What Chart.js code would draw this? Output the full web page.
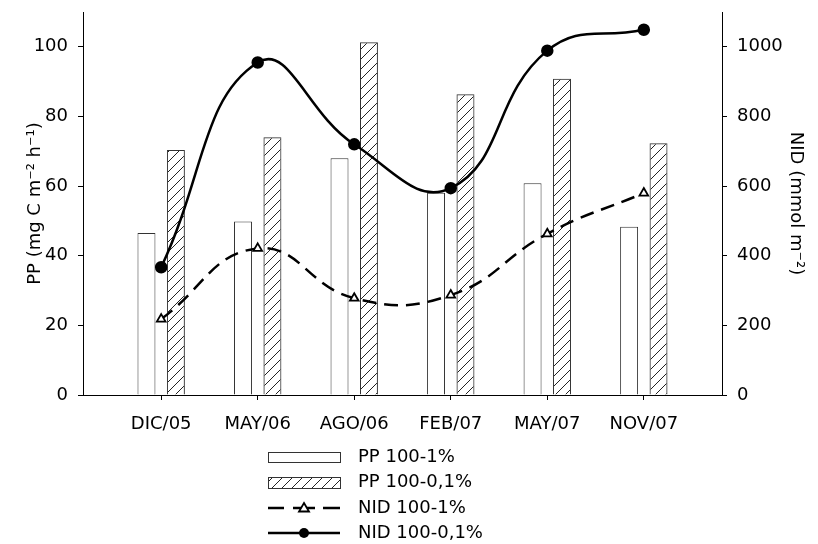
<!DOCTYPE html>
<html>
<head>
<meta charset="utf-8">
<script src="https://cdn.jsdelivr.net/npm/chart.js@4"></script>
<style>
  html, body { margin: 0; padding: 0; background: #fff; }
  #wrap { width: 818px; height: 544px; }
</style>
</head>
<body>
<div id="wrap"><canvas id="myChart" width="818" height="544"></canvas></div>
<script>
const categories = ['DIC/05', 'MAY/06', 'AGO/06', 'FEB/07', 'MAY/07', 'NOV/07'];
const pp1 = [46.5, 49.8, 68.0, 58.1, 60.8, 48.3];
const pp01 = [70.4, 74.0, 101.3, 86.4, 90.8, 72.3];
const nid1 = [218, 421, 278, 287, 463, 580];
const nid01 = [367, 955, 720, 594, 989, 1049];
const ppTicks = [0, 20, 40, 60, 80, 100];
const nidTicks = [0, 200, 400, 600, 800, 1000];
const legendLabels = ['PP 100-1%', 'PP 100-0,1%', 'NID 100-1%', 'NID 100-0,1%'];

const FONT = 'DejaVu Sans';

function hatch() {
  const c = document.createElement('canvas');
  c.width = 10; c.height = 10;
  const g = c.getContext('2d');
  g.strokeStyle = '#222';
  g.lineWidth = 1;
  g.beginPath();
  g.moveTo(0, 10); g.lineTo(10, 0);
  g.moveTo(-1, 1); g.lineTo(1, -1);
  g.moveTo(9, 11); g.lineTo(11, 9);
  g.stroke();
  return g.createPattern(c, 'repeat');
}
const hatchFill = hatch();

const xy = (arr) => arr.map((v, i) => ({ x: i, y: v }));

// y scales: fixed width and no extra label padding so the plot box starts at y=12
const fitY = (w) => (s) => { s.width = w; s.paddingTop = 0; s.paddingBottom = 0; };

// legend drawn by hand below the chart, one entry per row
const bottomLegend = {
  id: 'bottomLegend',
  afterDraw(chart) {
    const ctx = chart.ctx;
    const x0 = 268, x1 = 340, tx = 358;
    const rows = [457, 482.5, 508, 533];
    ctx.save();
    ctx.lineWidth = 1;
    ctx.strokeStyle = '#333';
    ctx.fillStyle = '#fff';
    ctx.fillRect(x0, 452, x1 - x0, 10);
    ctx.strokeRect(x0 + 0.5, 452.5, x1 - x0, 10);
    ctx.fillStyle = hatchFill;
    ctx.fillRect(x0, 477, x1 - x0, 11);
    ctx.strokeRect(x0 + 0.5, 477.5, x1 - x0, 11);

    ctx.strokeStyle = '#000';
    ctx.lineWidth = 2.5;
    ctx.beginPath();
    ctx.moveTo(x0, rows[2]); ctx.lineTo(284, rows[2]);
    ctx.moveTo(293, rows[2]); ctx.lineTo(315, rows[2]);
    ctx.moveTo(323, rows[2]); ctx.lineTo(x1, rows[2]);
    ctx.stroke();
    ctx.lineWidth = 1.8;
    ctx.fillStyle = '#fff';
    ctx.beginPath();
    ctx.moveTo(304, rows[2] - 5);
    ctx.lineTo(309, rows[2] + 3.5);
    ctx.lineTo(299, rows[2] + 3.5);
    ctx.closePath();
    ctx.fill(); ctx.stroke();

    ctx.lineWidth = 2.5;
    ctx.beginPath();
    ctx.moveTo(x0, rows[3]); ctx.lineTo(x1, rows[3]);
    ctx.stroke();
    ctx.fillStyle = '#000';
    ctx.beginPath();
    ctx.arc(304, rows[3], 5, 0, Math.PI * 2);
    ctx.fill();

    ctx.font = '18px "' + FONT + '"';
    ctx.textBaseline = 'middle';
    ctx.fillStyle = '#000';
    legendLabels.forEach((t, i) => ctx.fillText(t, tx, rows[i]));
    ctx.restore();
  }
};

const ctx = document.getElementById('myChart');
new Chart(ctx, {
  type: 'bar',
  data: {
    datasets: [
      {
        type: 'line', label: legendLabels[3], data: xy(nid01), yAxisID: 'y1', order: 0,
        borderColor: '#000', borderWidth: 2.5, tension: 0.45, fill: false,
        pointStyle: 'circle', pointRadius: 5, pointBackgroundColor: '#000', pointBorderColor: '#000'
      },
      {
        type: 'line', label: legendLabels[2], data: xy(nid1), yAxisID: 'y1', order: 0,
        borderColor: '#000', borderWidth: 2.5, borderDash: [14, 8], tension: 0.45, fill: false,
        pointStyle: 'triangle', pointRadius: 5, pointBackgroundColor: '#fff',
        pointBorderColor: '#000', pointBorderWidth: 1.8
      },
      {
        label: legendLabels[0], data: xy(pp1), yAxisID: 'y', order: 1,
        backgroundColor: '#fff', borderColor: '#333', borderWidth: 1,
        categoryPercentage: 0.61, barPercentage: 0.61
      },
      {
        label: legendLabels[1], data: xy(pp01), yAxisID: 'y', order: 1,
        backgroundColor: hatchFill, borderColor: '#333', borderWidth: 1,
        categoryPercentage: 0.61, barPercentage: 0.61
      }
    ]
  },
  options: {
    responsive: false,
    animation: false,
    layout: { padding: { top: 12, left: 0, right: 0, bottom: 0 } },
    plugins: { legend: { display: false }, tooltip: { enabled: false } },
    scales: {
      x: {
        type: 'linear', min: -0.81, max: 5.81, offset: false,
        afterBuildTicks: (s) => { s.ticks = categories.map((_, i) => ({ value: i })); },
        afterFit: (s) => { s.height = 149; s.paddingLeft = 0; s.paddingRight = 0; },
        ticks: {
          color: '#000', font: { family: FONT, size: 18 }, padding: 14, maxRotation: 0,
          callback: (v) => categories[v]
        },
        grid: { drawOnChartArea: false, offset: false, tickLength: 5, color: '#000', tickColor: '#000' },
        border: { color: '#000', width: 1 }
      },
      y: {
        position: 'left', min: 0, max: 110,
        afterBuildTicks: (s) => { s.ticks = ppTicks.map((v) => ({ value: v })); },
        afterFit: fitY(83),
        ticks: { color: '#000', font: { family: FONT, size: 18 }, padding: 10, callback: (v) => String(v) },
        grid: { drawOnChartArea: false, tickLength: 5, tickColor: '#000' },
        border: { color: '#000', width: 1 },
        title: {
          display: true, text: 'PP (mg C m\u207B\u00B2 h\u207B\u00B9)', color: '#000',
          font: { family: FONT, size: 18 }, padding: { top: 25, bottom: 0 }
        }
      },
      y1: {
        position: 'right', min: 0, max: 1100,
        afterBuildTicks: (s) => { s.ticks = nidTicks.map((v) => ({ value: v })); },
        afterFit: fitY(96),
        ticks: { color: '#000', font: { family: FONT, size: 18 }, padding: 10, callback: (v) => String(v) },
        grid: { drawOnChartArea: false, tickLength: 5, tickColor: '#000' },
        border: { color: '#000', width: 1 },
        title: {
          display: true, text: 'NID (mmol m\u207B\u00B2)', color: '#000',
          font: { family: FONT, size: 18 }, padding: { top: 12, bottom: 0 }
        }
      }
    }
  },
  plugins: [bottomLegend]
});
</script>
</body>
</html>
